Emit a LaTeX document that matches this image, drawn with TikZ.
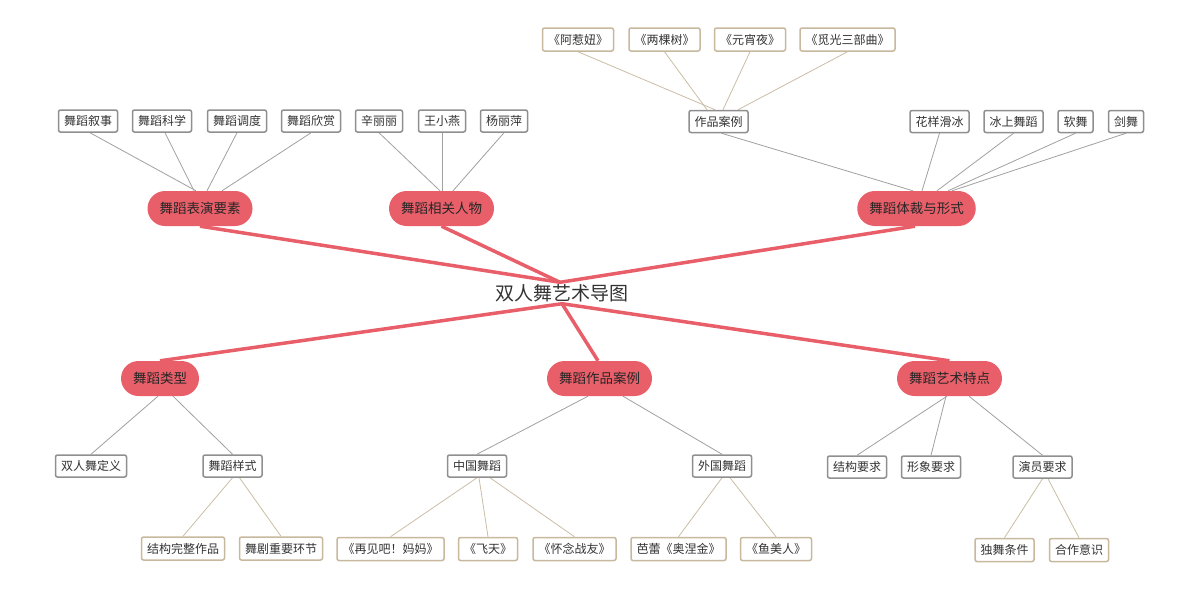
\documentclass[tikz,border=0pt]{standalone}
\usepackage{fontspec}
\setmainfont{Noto Sans CJK SC}
\usetikzlibrary{backgrounds}
\definecolor{redc}{HTML}{E85F69}
\definecolor{grayb}{HTML}{8F8F8F}
\definecolor{grayl}{HTML}{A0A0A0}
\definecolor{tanb}{HTML}{C7B89E}
\definecolor{tanl}{HTML}{CBBDA5}
\definecolor{txt}{HTML}{333333}
\tikzset{
  mainnode/.style={font=\fontsize{19}{19}\selectfont, text=txt, inner sep=0pt, minimum height=21pt},
  topic/.style={fill=redc, rounded corners=17.5pt, minimum height=35pt, inner xsep=12pt, inner ysep=0pt,
    font=\fontsize{13.5}{13.5}\selectfont, text=black!85},
  sub/.style={draw=grayb, line width=1.5pt, fill=white, rounded corners=2pt, minimum height=22pt,
    inner xsep=5.5pt, inner ysep=0pt, font=\fontsize{12}{12}\selectfont, text=txt},
  leaf/.style={draw=tanb, line width=1.5pt, fill=white, rounded corners=2pt, minimum height=23pt,
    inner xsep=5.5pt, inner ysep=0pt, font=\fontsize{12}{12}\selectfont, text=txt},
  bigline/.style={draw=redc, line width=3.5pt},
  gline/.style={draw=grayl, line width=0.8pt},
  tline/.style={draw=tanl, line width=0.8pt},
}
\begin{document}
\begin{tikzpicture}[x=1pt,y=-1pt]
\useasboundingbox (0,0) rectangle (1200,589);
% main
\node[mainnode] (m) at (562,293) {双人舞艺术导图};
% topics
\node[topic] (t1) at (200,208.5) {舞蹈表演要素};
\node[topic] (t2) at (441.5,208.5) {舞蹈相关人物};
\node[topic] (t3) at (916.5,208.5) {舞蹈体裁与形式};
\node[topic] (b1) at (160,378.5) {舞蹈类型};
\node[topic] (b2) at (599.5,378.5) {舞蹈作品案例};
\node[topic] (b3) at (949.5,378.5) {舞蹈艺术特点};
% top subs
\node[sub] (a1) at (88,121) {舞蹈叙事};
\node[sub] (a2) at (162,121) {舞蹈科学};
\node[sub] (a3) at (237,121) {舞蹈调度};
\node[sub] (a4) at (311,121) {舞蹈欣赏};
\node[sub] (p1) at (379,121) {辛丽丽};
\node[sub] (p2) at (442,121) {王小燕};
\node[sub] (p3) at (504,121) {杨丽萍};
\node[sub] (f1) at (718.5,121.5) {作品案例};
\node[sub] (f2) at (939.5,121.5) {花样滑冰};
\node[sub] (f3) at (1013.5,121.5) {冰上舞蹈};
\node[sub] (f4) at (1075.5,121.5) {软舞};
\node[sub] (f5) at (1126,121.5) {剑舞};
% top leaves
\node[leaf] (w1) at (578,39.5) {《阿惹妞》};
\node[leaf] (w2) at (664.5,39.5) {《两棵树》};
\node[leaf] (w3) at (750,39.5) {《元宵夜》};
\node[leaf] (w4) at (847.5,39.5) {《觅光三部曲》};
% bottom subs
\node[sub] (d1) at (91,466) {双人舞定义};
\node[sub] (d2) at (232.5,466) {舞蹈样式};
\node[sub] (c1) at (477,466) {中国舞蹈};
\node[sub] (c2) at (722,466) {外国舞蹈};
\node[sub] (r1) at (857,467) {结构要求};
\node[sub] (r2) at (931,467) {形象要求};
\node[sub] (r3) at (1042.5,467) {演员要求};
% bottom leaves
\node[leaf] (s1) at (183,548.5) {结构完整作品};
\node[leaf] (s2) at (281,548.5) {舞剧重要环节};
\node[leaf] (z1) at (390.5,549) {《再见吧！妈妈》};
\node[leaf] (z2) at (488,549) {《飞天》};
\node[leaf] (z3) at (574.5,549) {《怀念战友》};
\node[leaf] (z4) at (678.5,549) {芭蕾《奥涅金》};
\node[leaf] (z5) at (776,549) {《鱼美人》};
\node[leaf] (y1) at (1004.5,550) {独舞条件};
\node[leaf] (y2) at (1079,550) {合作意识};
\begin{pgfonlayer}{background}
% main branches
\draw[bigline] (t1.south) -- ([xshift=-2pt]m.north);
\draw[bigline] (t2.south) -- ([xshift=-2pt]m.north);
\draw[bigline] ([xshift=-1.5pt]t3.south) -- ([xshift=-2pt]m.north);
\draw[bigline] (b1.north) -- (m.south);
\draw[bigline] ([xshift=-1.5pt]b2.north) -- (m.south);
\draw[bigline] (b3.north) -- (m.south);
% top-left
\draw[gline] ([xshift=2pt]a1.south) -- ([xshift=-4pt]t1.north);
\draw[gline] ([xshift=3pt]a2.south) -- ([xshift=-6pt]t1.north);
\draw[gline] (a3.south) -- ([xshift=7pt]t1.north);
\draw[gline] (a4.south) -- ([xshift=22pt]t1.north);
\draw[gline] (p1.south) -- ([xshift=-1.5pt]t2.north);
\draw[gline] (p2.south) -- ([xshift=0.5pt]t2.north);
\draw[gline] (p3.south) -- ([xshift=11.5pt]t2.north);
% top-right
\draw[gline] ([xshift=3pt]f1.south) -- ([xshift=-3.5pt]t3.north);
\draw[gline] (f2.south) -- ([xshift=5.5pt]t3.north);
\draw[gline] (f3.south) -- ([xshift=20.5pt]t3.north);
\draw[gline] (f4.south) -- ([xshift=31.5pt]t3.north);
\draw[gline] (f5.south) -- ([xshift=35.5pt]t3.north);
\draw[tline] (w1.south) -- ([xshift=-3.5pt]f1.north);
\draw[tline] (w2.south) -- ([xshift=-11.5pt]f1.north);
\draw[tline] (w3.south) -- ([xshift=4.5pt]f1.north);
\draw[tline] (w4.south) -- ([xshift=19.5pt]f1.north);
% bottom-left
\draw[gline] ([xshift=-2pt]b1.south) -- (d1.north);
\draw[gline] ([xshift=13pt]b1.south) -- (d2.north);
\draw[tline] (d2.south) -- (s1.north);
\draw[tline] ([xshift=7pt]d2.south) -- (s2.north);
% bottom-middle
\draw[gline] ([xshift=-11.5pt]b2.south) -- (c1.north);
\draw[gline] ([xshift=23.5pt]b2.south) -- (c2.north);
\draw[tline] (c1.south) -- (z1.north);
\draw[tline] ([xshift=2pt]c1.south) -- (z2.north);
\draw[tline] ([xshift=13pt]c1.south) -- (z3.north);
\draw[tline] (c2.south) -- (z4.north);
\draw[tline] ([xshift=8pt]c2.south) -- (z5.north);
% bottom-right
\draw[gline] ([xshift=-2.5pt]b3.south) -- (r1.north);
\draw[gline] ([xshift=-3.5pt]b3.south) -- (r2.north);
\draw[gline] ([xshift=19.5pt]b3.south) -- (r3.north);
\draw[tline] (r3.south) -- (y1.north);
\draw[tline] ([xshift=5.5pt]r3.south) -- (y2.north);
\end{pgfonlayer}
\end{tikzpicture}
\end{document}
